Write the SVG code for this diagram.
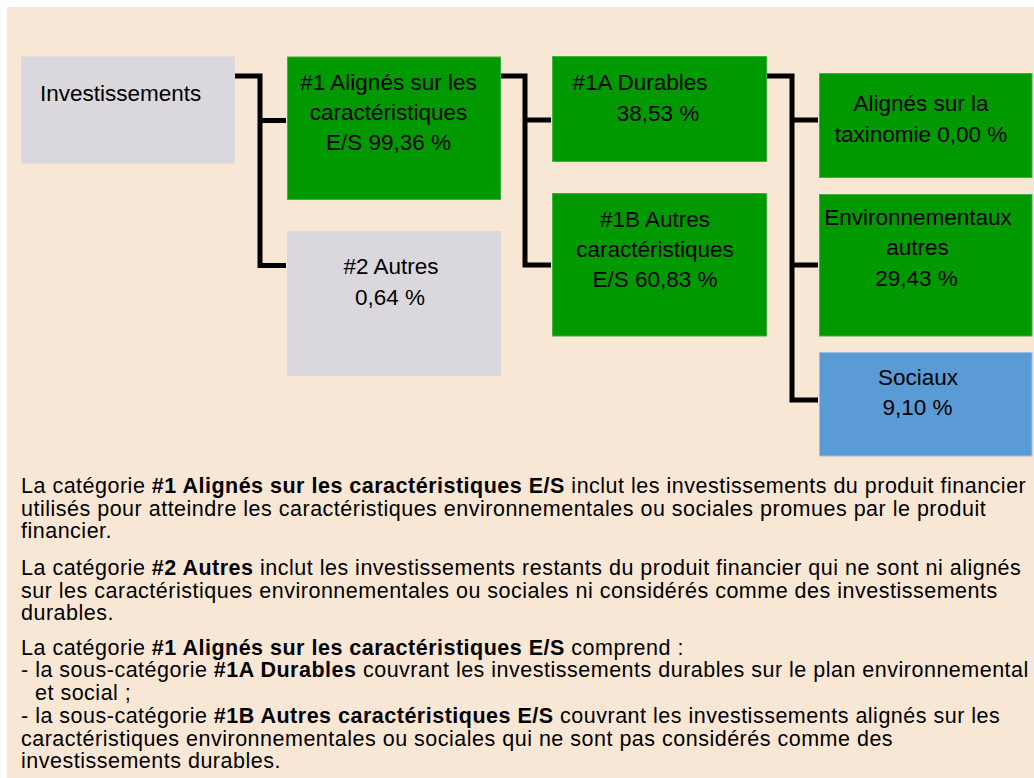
<svg xmlns="http://www.w3.org/2000/svg" width="1034" height="778" viewBox="0 0 1034 778">
<style>
.bg{fill:#F9E7D5}
.gray{fill:#DAD8DD}
.green{fill:#009900;stroke:#3FAF3F;stroke-width:1}
.blue{fill:#5B9BD5;stroke:#9CC0E4;stroke-width:1}
.lbl{font-family:"Liberation Sans",Arial,sans-serif;font-size:22.5px;fill:#000}
.c{text-anchor:middle}
.body{font-family:"Liberation Sans",Arial,sans-serif;font-size:21.5px;letter-spacing:0.5px;fill:#000}
.b{font-weight:bold}
.conn{fill:none;stroke:#000;stroke-width:5;stroke-linejoin:miter}
</style>
<rect x="0" y="0" width="1034" height="778" fill="#FFFFFF"/>
<rect class="bg" x="7" y="7" width="1027" height="771"/>

<g id="connectors">
<path class="conn" d="M235,76 H260 V265.5 H286 M260,120.5 H286"/>
<path class="conn" d="M500.5,76 H525 V265 H551 M525,120 H551"/>
<path class="conn" d="M766.5,76 H792 V400 H818 M792,120 H818 M792,265 H818"/>
</g>

<g id="n-invest">
<rect class="gray" x="21" y="56.5" width="214" height="107"/>
<text class="lbl" x="40" y="101">Investissements</text>
</g>

<g id="n-1">
<rect class="green" x="287.5" y="57" width="213" height="142.5"/>
<text class="lbl c" x="388.5" y="90">#1 Alignés sur les</text>
<text class="lbl c" x="388.5" y="120">caractéristiques</text>
<text class="lbl c" x="388.5" y="150">E/S 99,36 %</text>
</g>

<g id="n-2">
<rect class="gray" x="287" y="231" width="214" height="145"/>
<text class="lbl c" x="391" y="274">#2 Autres</text>
<text class="lbl c" x="390" y="305">0,64 %</text>
</g>

<g id="n-1a">
<rect class="green" x="552.5" y="56.5" width="214" height="105"/>
<text class="lbl" x="572.5" y="90">#1A Durables</text>
<text class="lbl c" x="658" y="120.5">38,53 %</text>
</g>

<g id="n-1b">
<rect class="green" x="552.5" y="193.5" width="214" height="142.5"/>
<text class="lbl c" x="655" y="226.5">#1B Autres</text>
<text class="lbl c" x="655" y="257">caractéristiques</text>
<text class="lbl c" x="655" y="287">E/S 60,83 %</text>
</g>

<g id="n-taxo">
<rect class="green" x="819.5" y="73.5" width="212.5" height="104"/>
<text class="lbl c" x="921" y="110.5">Alignés sur la</text>
<text class="lbl c" x="921" y="141.5">taxinomie 0,00 %</text>
</g>

<g id="n-env">
<rect class="green" x="819.5" y="194.5" width="212.5" height="141.5"/>
<text class="lbl c" x="918" y="225">Environnementaux</text>
<text class="lbl c" x="917.5" y="255">autres</text>
<text class="lbl c" x="916.5" y="286">29,43 %</text>
</g>

<g id="n-soc">
<rect class="blue" x="819.5" y="352.5" width="212.5" height="103.5"/>
<text class="lbl c" x="918" y="385">Sociaux</text>
<text class="lbl c" x="917.5" y="415">9,10 %</text>
</g>

<g id="legend">
<text class="body" x="21" y="493">La catégorie <tspan class="b">#1 Alignés sur les caractéristiques E/S</tspan> inclut les investissements du produit financier</text>
<text class="body" x="21" y="515.5">utilisés pour atteindre les caractéristiques environnementales ou sociales promues par le produit</text>
<text class="body" x="21" y="538">financier.</text>
<text class="body" x="21" y="575">La catégorie <tspan class="b">#2 Autres</tspan> inclut les investissements restants du produit financier qui ne sont ni alignés</text>
<text class="body" x="21" y="597.5">sur les caractéristiques environnementales ou sociales ni considérés comme des investissements</text>
<text class="body" x="21" y="620">durables.</text>
<text class="body" x="21" y="655">La catégorie <tspan class="b">#1 Alignés sur les caractéristiques E/S</tspan> comprend :</text>
<text class="body" x="21" y="677">- la sous-catégorie <tspan class="b">#1A Durables</tspan> couvrant les investissements durables sur le plan environnemental</text>
<text class="body" x="35" y="700">et social ;</text>
<text class="body" x="21" y="723">- la sous-catégorie <tspan class="b">#1B Autres caractéristiques E/S</tspan> couvrant les investissements alignés sur les</text>
<text class="body" x="21" y="746">caractéristiques environnementales ou sociales qui ne sont pas considérés comme des</text>
<text class="body" x="21" y="768">investissements durables.</text>
</g>
</svg>
